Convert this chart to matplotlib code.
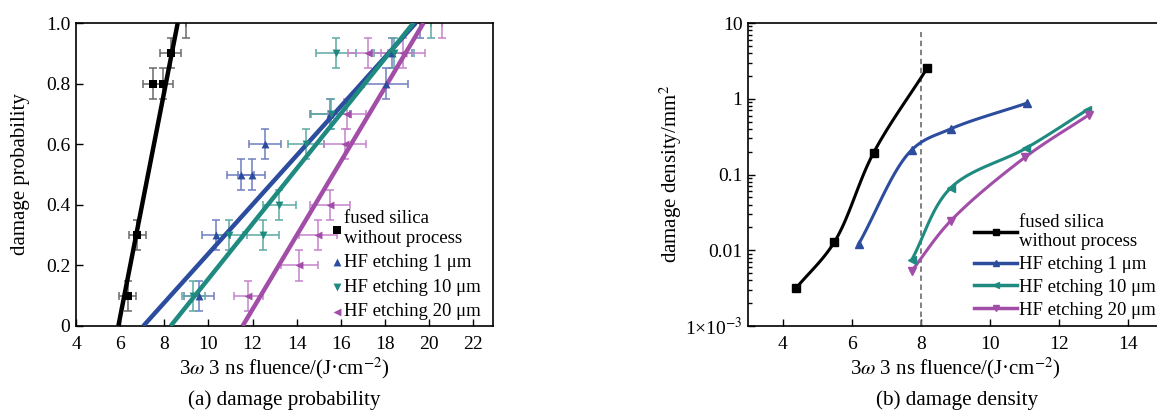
import numpy as np
import matplotlib
matplotlib.use("Agg")
import matplotlib.pyplot as plt

# ---------------- DATA ----------------
# (a) damage probability: points (fluence, probability, x error)
fs_x = [6.34, 6.78, 7.50, 7.96, 8.29, 9.00]
fs_p = [0.1, 0.3, 0.8, 0.8, 0.9, 1.0]
fs_xerr = [0.38, 0.38, 0.45, 0.45, 0.47, 0.0]

hf1_x = [9.58, 10.35, 11.46, 11.96, 12.57, 15.51, 18.05, 18.31, 19.6]
hf1_p = [0.1, 0.3, 0.5, 0.5, 0.6, 0.7, 0.8, 0.9, 1.0]
hf1_xerr = [0.68, 0.62, 0.6, 0.6, 0.71, 0.9, 1.0, 0.9, 0.0]

hf10_x = [9.32, 10.95, 12.49, 13.22, 14.43, 15.55, 15.79, 18.4, 20.1]
hf10_p = [0.1, 0.3, 0.3, 0.4, 0.6, 0.7, 0.9, 0.9, 1.0]
hf10_xerr = [0.53, 0.6, 0.72, 0.74, 0.8, 0.9, 0.9, 0.9, 0.0]

hf20_x = [11.81, 14.12, 14.98, 15.51, 16.19, 16.27, 17.25, 18.84, 20.6]
hf20_p = [0.1, 0.2, 0.3, 0.4, 0.6, 0.7, 0.9, 0.9, 1.0]
hf20_xerr = [0.66, 0.83, 0.87, 0.89, 0.94, 0.87, 0.9, 1.0, 0.0]

# linear fits: fluence at probability 0 and at probability 1
fit_x0 = [5.92, 7.05, 8.29, 11.55]
fit_x1 = [8.61, 19.40, 19.29, 19.75]

# (b) damage density
dd_fs_x = [4.40, 5.50, 6.63, 8.19]
dd_fs_y = [0.0032, 0.0129, 0.193, 2.57]
dd_hf1_x = [6.20, 7.73, 8.86, 11.08]
dd_hf1_y = [0.0121, 0.21, 0.40, 0.88]
dd_hf10_x = [7.73, 8.86, 11.05, 12.80]
dd_hf10_y = [0.0074, 0.0665, 0.224, 0.71]
dd_hf20_x = [7.73, 8.86, 11.02, 12.85]
dd_hf20_y = [0.0053, 0.0244, 0.17, 0.61]

labels = ["fused silica\nwithout process", "HF etching 1 μm",
          "HF etching 10 μm", "HF etching 20 μm"]
colors = ["#000000", "#2c4c9e", "#1e8a80", "#a24ea8"]
err_colors = ["#6a6a6a", "#6f7fc2", "#5eaaa2", "#c582cc"]
# --------------------------------------

plt.rcParams["font.family"] = ["Liberation Serif", "DejaVu Serif"]
plt.rcParams["mathtext.fontset"] = "stix"
plt.rcParams["font.size"] = 14
LABEL_FS = 15
LEG_FS = 13.5


def smooth(x, y, n=40, k=2.19):
    # centripetal Catmull-Rom through the points in (x, k*log y)
    P = np.column_stack([np.asarray(x, float), k * np.log10(y)])
    P = np.vstack([2 * P[0] - P[1], P, 2 * P[-1] - P[-2]])
    out = []
    for i in range(1, len(P) - 2):
        P0, P1, P2, P3 = P[i - 1], P[i], P[i + 1], P[i + 2]
        t0 = 0.0
        t1 = t0 + np.linalg.norm(P1 - P0) ** 0.5
        t2 = t1 + np.linalg.norm(P2 - P1) ** 0.5
        t3 = t2 + np.linalg.norm(P3 - P2) ** 0.5
        t = np.linspace(t1, t2, n)[:, None]
        A1 = (t1 - t) / (t1 - t0) * P0 + (t - t0) / (t1 - t0) * P1
        A2 = (t2 - t) / (t2 - t1) * P1 + (t - t1) / (t2 - t1) * P2
        A3 = (t3 - t) / (t3 - t2) * P2 + (t - t2) / (t3 - t2) * P3
        B1 = (t2 - t) / (t2 - t0) * A1 + (t - t0) / (t2 - t0) * A2
        B2 = (t3 - t) / (t3 - t1) * A2 + (t - t1) / (t3 - t1) * A3
        out.append((t2 - t) / (t2 - t1) * B1 + (t - t1) / (t2 - t1) * B2)
    C = np.vstack(out)
    return C[:, 0], 10 ** (C[:, 1] / k)


fig = plt.figure(figsize=(11.57, 4.12), dpi=100)
ax1 = fig.add_axes([76 / 1157, 1 - 326 / 412, 417 / 1157, 303 / 412])
ax2 = fig.add_axes([748 / 1157, 1 - 326 / 412, 415 / 1157, 303 / 412])

# ---------------- (a) ----------------
series = [(fs_x, fs_p, fs_xerr, "s"), (hf1_x, hf1_p, hf1_xerr, "^"),
          (hf10_x, hf10_p, hf10_xerr, "v"), (hf20_x, hf20_p, hf20_xerr, "<")]
handles = []
for i, (x, p, xe, m) in enumerate(series):
    x = np.array(x); p = np.array(p); xe = np.array(xe)
    ax1.errorbar(x, p, xerr=xe, yerr=0.05, fmt="none", ecolor=err_colors[i],
                 elinewidth=1.1, capsize=3, capthick=1.1, zorder=2)
    inside = p < 1.0
    h = ax1.scatter(x[inside], p[inside], marker=m, s=32, color=colors[i],
                    zorder=4, linewidths=0, label=labels[i])
    handles.append(h)
    ax1.plot([fit_x0[i], fit_x1[i]], [0, 1], color=colors[i], lw=3.2,
             solid_capstyle="butt", zorder=3)

ax1.set_xlim(4, 22.9)
ax1.set_ylim(0, 1.0)
ax1.set_xticks(np.arange(4, 23, 2))
ax1.set_yticks([0, 0.2, 0.4, 0.6, 0.8, 1.0])
ax1.set_yticklabels(["0", "0.2", "0.4", "0.6", "0.8", "1.0"])
ax1.set_xlabel("3$\\omega$ 3 ns fluence/(J·cm$^{-2}$)", fontsize=LABEL_FS,
               labelpad=2)
ax1.set_ylabel("damage probability", fontsize=LABEL_FS)
ax1.yaxis.set_label_coords(-0.11, 0.5)
ax1.legend(handles=handles, loc="upper left", bbox_to_anchor=(0.615, 0.383),
           frameon=False, handlelength=0.5, handletextpad=0.1,
           labelspacing=0.4, borderaxespad=0, borderpad=0,
           fontsize=LEG_FS)

# ---------------- (b) ----------------
dd = [(dd_fs_x, dd_fs_y, "s"), (dd_hf1_x, dd_hf1_y, "^"),
      (dd_hf10_x, dd_hf10_y, "<"), (dd_hf20_x, dd_hf20_y, "v")]
for i, (x, y, m) in enumerate(dd):
    sx, sy = smooth(x, y)
    ax2.plot(sx, sy, color=colors[i], lw=2.2, zorder=3)
    ax2.plot(x, y, ls="none", marker=m, ms=5.5, color=colors[i], zorder=4)
    ax2.plot([], [], color=colors[i], lw=2.5, marker=m, ms=4.5, label=labels[i])

ax2.vlines(8, 1e-3, 7.5, colors="#777777", linestyles=(0, (3, 2)), lw=1.3)
ax2.set_yscale("log")
ax2.set_xlim(3, 15)
ax2.set_ylim(1e-3, 10)
ax2.set_xticks(np.arange(4, 15, 2))
ax2.set_yticks([1e-3, 1e-2, 1e-1, 1, 10])
ax2.set_yticklabels(["1×10$^{-3}$", "0.01", "0.1", "1", "10"])
ax2.set_xlabel("3$\\omega$ 3 ns fluence/(J·cm$^{-2}$)", fontsize=LABEL_FS,
               labelpad=2)
ax2.set_ylabel("damage density/mm$^{2}$", fontsize=LABEL_FS)
ax2.yaxis.set_label_coords(-0.155, 0.5)
ax2.legend(loc="upper left", bbox_to_anchor=(0.545, 0.37), frameon=False,
           handlelength=2.3, handletextpad=0.1, labelspacing=0.3,
           borderaxespad=0, borderpad=0, fontsize=LEG_FS)

for ax in (ax1, ax2):
    ax.tick_params(direction="in", which="both", top=False, right=False,
                   length=5, width=1)
    ax.tick_params(axis="x", pad=7)
    ax.tick_params(axis="y", pad=4)
    ax.tick_params(which="minor", length=3)
    for s in ax.spines.values():
        s.set_linewidth(1.2)

fig.text(284.5 / 1157, 1 - 400 / 412, "(a) damage probability",
         ha="center", va="center", fontsize=15.2)
fig.text(957 / 1157, 1 - 400 / 412, "(b) damage density",
         ha="center", va="center", fontsize=15.2)

fig.savefig("out.png", dpi=100)
